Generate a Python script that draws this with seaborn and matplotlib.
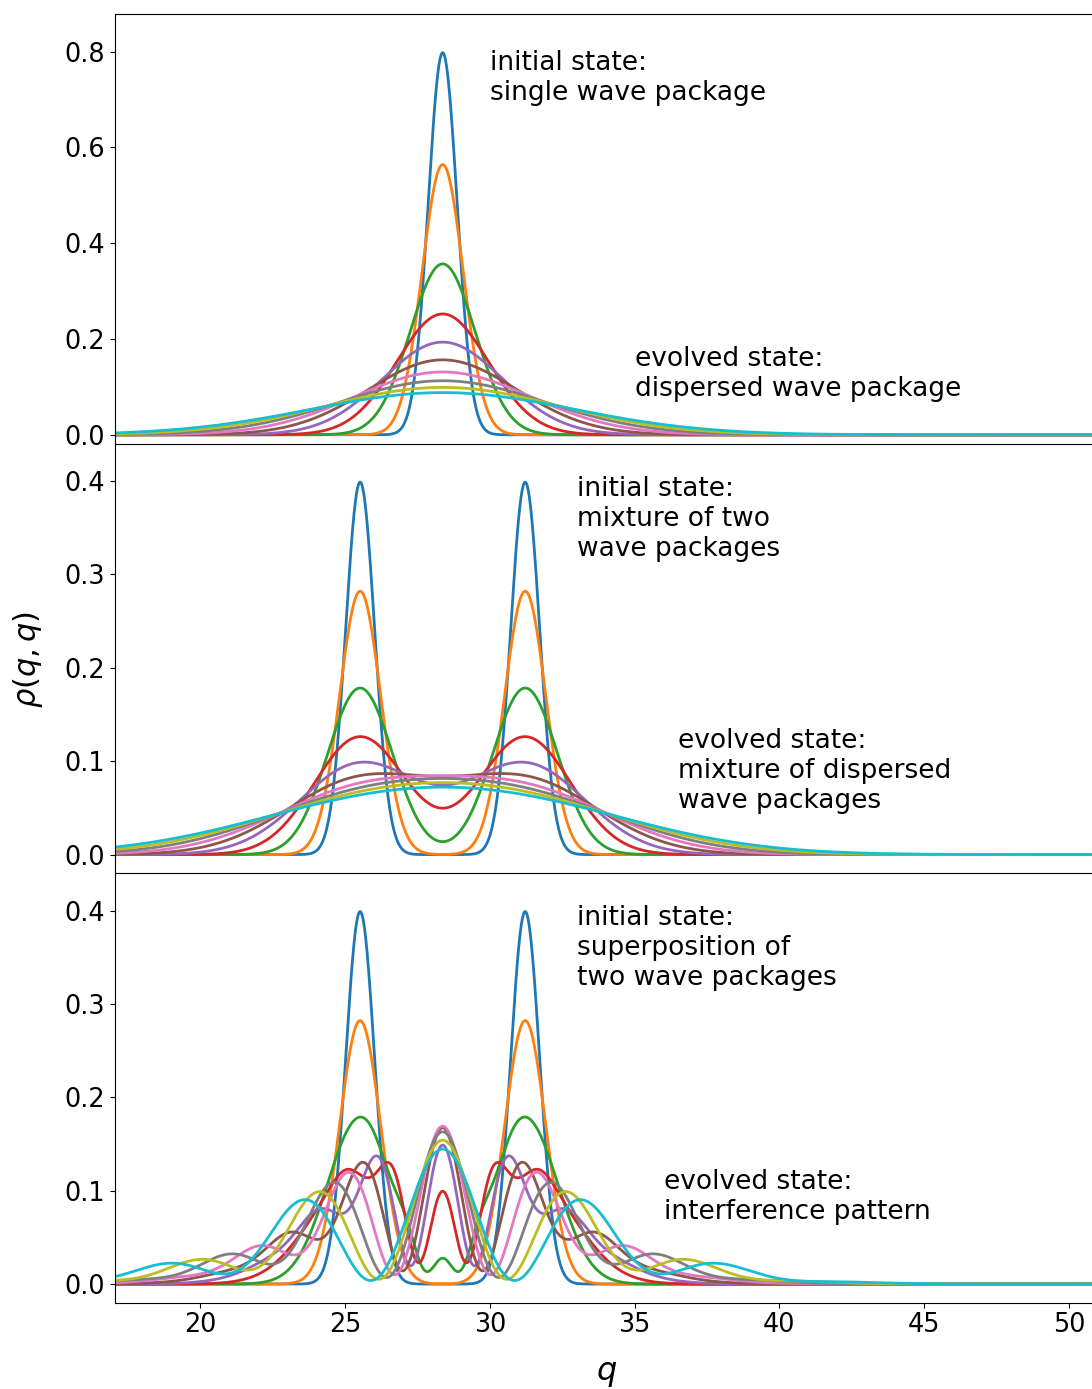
import numpy as np
import pandas as pd
import matplotlib
matplotlib.use("Agg")
import matplotlib.pyplot as plt
import seaborn as sns

# time steps (in units of the spreading time) and packet parameters
times = [0, 1, 2, 3, 4, 5, 6, 7, 8, 9]
sigma0 = 0.5
single_center = 28.37
pair_centers = [25.52, 31.22]

x_ticks = [20, 25, 30, 35, 40, 45, 50]
y_ticks_top = [0.0, 0.2, 0.4, 0.6, 0.8]
y_ticks_low = [0.0, 0.1, 0.2, 0.3, 0.4]

texts = [
    [("initial state:\nsingle wave package", 30, 0.70),
     ("evolved state:\ndispersed wave package", 35, 0.08)],
    [("initial state:\nmixture of two\nwave packages", 33, 0.32),
     ("evolved state:\nmixture of dispersed\nwave packages", 36.5, 0.05)],
    [("initial state:\nsuperposition of\ntwo wave packages", 33, 0.32),
     ("evolved state:\ninterference pattern", 36, 0.07)],
]

q = np.linspace(17, 51, 3000)


def psi(q, q0, s):
    # free gaussian wave package after time s
    norm = (2 * np.pi * sigma0**2) ** -0.25 / np.sqrt(1 + 1j * s)
    return norm * np.exp(-(q - q0) ** 2 / (4 * sigma0**2 * (1 + 1j * s)))


def make_df(kind):
    rows = []
    for s in times:
        if kind == "single":
            rho = np.abs(psi(q, single_center, s)) ** 2
        elif kind == "mixture":
            rho = 0.5 * sum(np.abs(psi(q, c, s)) ** 2 for c in pair_centers)
        else:
            rho = 0.5 * np.abs(sum(psi(q, c, s) for c in pair_centers)) ** 2
        rows.append(pd.DataFrame({"q": q, "rho": rho, "t": f"t{s}"}))
    return pd.concat(rows, ignore_index=True)


fig = plt.figure(figsize=(10.92, 13.89), dpi=100)
left, width, h = 0.1049, 0.9006, 0.3092
b0 = 0.0621
bottoms = [b0 + 2 * h, b0 + h, b0]
ylims = [(-0.0188, 0.878), (-0.02, 0.44), (-0.02, 0.44)]
kinds = ["single", "mixture", "superposition"]
palette = sns.color_palette("tab10", len(times))

axes = []
for i, kind in enumerate(kinds):
    ax = fig.add_axes([left, bottoms[i], width, h])
    df = make_df(kind)
    sns.lineplot(data=df, x="q", y="rho", hue="t", hue_order=[f"t{s}" for s in times],
                 palette=palette, estimator=None, legend=False, lw=2, ax=ax)
    ax.set_xlim(17.04, 51.0)
    ax.set_ylim(*ylims[i])
    ax.set_yticks(y_ticks_top if i == 0 else y_ticks_low)
    ax.set_xticks(x_ticks)
    ax.tick_params(labelsize=18.4)
    ax.set_ylabel("")
    ax.set_xlabel("")
    if i < 2:
        ax.tick_params(labelbottom=False)
        ax.spines["bottom"].set_visible(False)
    for txt, tx, ty in texts[i]:
        ax.text(tx, ty, txt, fontsize=19, va="baseline", ha="left")
    axes.append(ax)

axes[2].set_xlabel("$q$", fontsize=23, labelpad=14)
fig.text(0.026, 1 - 660 / 1389, r"$\rho(q,q)$", rotation=90, fontsize=22,
         ha="center", va="center")

fig.savefig("out.png", dpi=100)
